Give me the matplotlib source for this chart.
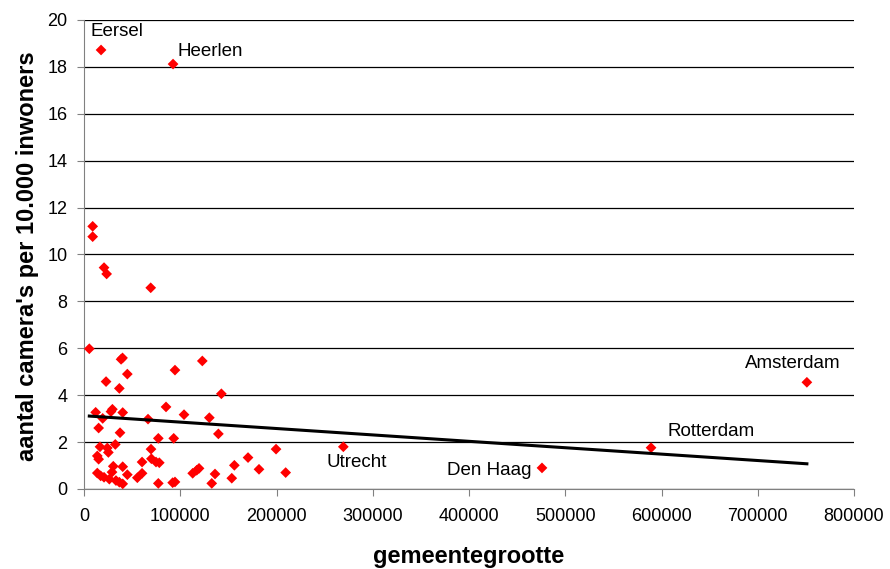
import matplotlib
matplotlib.use('Agg')
import matplotlib.pyplot as plt
import numpy as np

# gemeentegrootte (inwoners) en aantal camera's per 10.000 inwoners
grootte = [17700, 92500, 9000, 9000, 20800, 23500, 69300, 5500, 38500, 40000,
           45000, 22900, 36700, 94500, 122900, 142700, 12100, 19400, 28000, 29500,
           40200, 15200, 37400, 66500, 85200, 103900, 130200, 139600, 77200, 93200,
           32500, 16600, 24200, 25300, 13800, 15200, 69600, 70000, 74800, 78200,
           60300, 40200, 30400, 13800, 17300, 20800, 26300, 29100, 33200, 36700,
           40200, 45000, 55400, 60300, 77200, 92100, 94500, 112900, 117100, 119500,
           132700, 136100, 153500, 156200, 170400, 181800, 199500, 209500, 269400, 475800,
           589100, 751000]
cameras = [18.72, 18.12, 11.2, 10.76, 9.44, 9.17, 8.58, 5.98, 5.53, 5.59,
           4.9, 4.58, 4.29, 5.07, 5.46, 4.06, 3.27, 3.01, 3.3, 3.4,
           3.26, 2.6, 2.4, 2.98, 3.5, 3.17, 3.04, 2.35, 2.16, 2.16,
           1.9, 1.8, 1.75, 1.56, 1.41, 1.27, 1.7, 1.29, 1.15, 1.12,
           1.15, 0.95, 0.97, 0.68, 0.56, 0.5, 0.42, 0.72, 0.36, 0.29,
           0.22, 0.61, 0.48, 0.67, 0.24, 0.27, 0.3, 0.67, 0.8, 0.88,
           0.24, 0.64, 0.46, 1.01, 1.34, 0.84, 1.7, 0.7, 1.8, 0.9,
           1.76, 4.55]

# trendlijn zoals in de grafiek (lineair: y = a*x + b)
trend_a = -2.73e-6
trend_b = 3.125

# gemeenten met naam (index in de lijsten hierboven)
namen = ['Eersel', 'Heerlen', 'Utrecht', 'Den Haag', 'Rotterdam', 'Amsterdam']
naam_idx = [0, 1, 68, 69, 70, 71]
offsets = [(-11, 18), (4, 13), (-17, -16), (-95, -3), (16, 16), (-62, 19)]  # pixels

plt.rcParams['font.family'] = ['Liberation Sans', 'DejaVu Sans']
fig = plt.figure(figsize=(8.9, 5.69), dpi=100)
ax = fig.add_axes([0.0944, 0.1406, 0.8652, 0.8243])

ax.scatter(grootte, cameras, marker='D', s=30, color='#ff0000', edgecolors='none', zorder=3)

xs = np.array([min(grootte), max(grootte)])
ax.plot(xs, trend_a * xs + trend_b, color='black', lw=2.2, zorder=4)

for naam, i, off in zip(namen, naam_idx, offsets):
    ax.annotate(naam, (grootte[i], cameras[i]), xytext=off, textcoords='offset pixels',
                ha='left', va='center', fontsize=13.5)

ax.set_xlim(0, 800000)
ax.set_ylim(0, 20)
ax.set_xticks(np.arange(0, 800001, 100000))
ax.set_yticks(np.arange(0, 21, 2))
ax.yaxis.grid(True, color='black', lw=0.9)
ax.set_axisbelow(True)
for s in ['top', 'right']:
    ax.spines[s].set_visible(False)
ax.spines['left'].set_color('#808080')
ax.spines['bottom'].set_color('#808080')
ax.tick_params(axis='both', direction='out', length=5, color='#808080', labelsize=13)
ax.tick_params(axis='x', pad=9)
ax.tick_params(axis='y', pad=7)
ax.set_xlabel('gemeentegrootte', fontsize=17, fontweight='bold')
ax.set_ylabel("aantal camera's per 10.000 inwoners", fontsize=17, fontweight='bold')
ax.xaxis.set_label_coords(0.5, -0.12)
ax.yaxis.set_label_coords(-0.058, 0.497)

fig.savefig('out.png', dpi=100)
